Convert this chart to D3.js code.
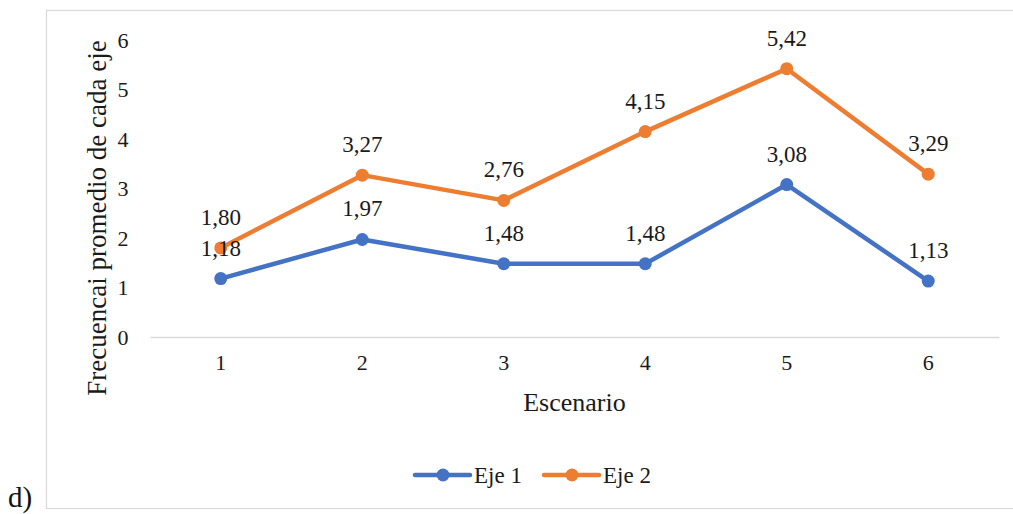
<!DOCTYPE html>
<html>
<head>
<meta charset="utf-8">
<script src="https://cdn.jsdelivr.net/npm/d3@7"></script>
<style>
  html, body { margin: 0; padding: 0; background: #fff; }
  svg { display: block; }
</style>
</head>
<body>
<svg id="chart" width="1013" height="514"></svg>
<script>
// Scenario categories and mean frequency per axis
const escenarios = ["1", "2", "3", "4", "5", "6"];
const eje1 = [1.18, 1.97, 1.48, 1.48, 3.08, 1.13];
const eje2 = [1.80, 3.27, 2.76, 4.15, 5.42, 3.29];
const yTicks = [0, 1, 2, 3, 4, 5, 6];
const seriesNames = ["Eje 1", "Eje 2"];
const seriesColors = ["#4472C4", "#ED7D31"];

const svg = d3.select("#chart");
const fmt = v => d3.format(".2f")(v).replace(".", ",");
const FONT = "'Liberation Serif', 'Times New Roman', serif";
const serif = sel => sel.style("font-family", FONT);

// Chart frame
svg.append("rect")
  .attr("x", 46.5).attr("y", 10.5)
  .attr("width", 975).attr("height", 498)
  .attr("fill", "#fff").attr("stroke", "#d9d9d9").attr("stroke-width", 1.2);

const plot = { left: 150, right: 999, top: 40, bottom: 337 };

const x = d3.scaleBand().domain(escenarios).range([plot.left, plot.right]);
const y = d3.scaleLinear().domain([0, 6]).range([plot.bottom, plot.top]);
const cx = d => x(d) + x.bandwidth() / 2;

// Baseline and category labels
const xAxis = svg.append("g").attr("transform", `translate(0,${plot.bottom})`)
  .call(d3.axisBottom(x).tickSize(0).tickPadding(17));
xAxis.select(".domain").attr("stroke", "#d9d9d9").attr("stroke-width", 1.5);
xAxis.selectAll("text").attr("fill", "#1a1a1a").style("font-size", "22px").call(serif);

// Value axis labels
const yAxis = svg.append("g").attr("transform", `translate(${plot.left - 27},0)`)
  .call(d3.axisLeft(y).tickValues(yTicks).tickFormat(d3.format("d")).tickSize(0).tickPadding(0));
yAxis.select(".domain").remove();
yAxis.selectAll("text").attr("fill", "#1a1a1a").attr("text-anchor", "middle").attr("x", 0)
  .style("font-size", "22px").call(serif);

// Axis titles
svg.append("text")
  .attr("transform", `translate(106,218) rotate(-90)`)
  .attr("text-anchor", "middle").attr("fill", "#1a1a1a")
  .style("font-size", "27px").call(serif)
  .text("Frecuencai promedio de cada eje");

svg.append("text")
  .attr("x", (plot.left + plot.right) / 2).attr("y", 411)
  .attr("text-anchor", "middle").attr("fill", "#1a1a1a")
  .style("font-size", "26px").call(serif)
  .text("Escenario");

// Series
const series = [eje1, eje2];
const line = d3.line().x((d, i) => cx(escenarios[i])).y(d => y(d));

series.forEach((vals, s) => {
  const g = svg.append("g");
  g.append("path").datum(vals)
    .attr("d", line).attr("fill", "none")
    .attr("stroke", seriesColors[s]).attr("stroke-width", 4.5)
    .attr("stroke-linejoin", "round");
  g.selectAll("circle").data(vals).join("circle")
    .attr("cx", (d, i) => cx(escenarios[i])).attr("cy", d => y(d))
    .attr("r", 6.5).attr("fill", seriesColors[s]);
});

// Data labels (orange first, blue on top where they overlap)
[eje2, eje1].forEach(vals => {
  svg.append("g").selectAll("text").data(vals).join("text")
    .attr("x", (d, i) => cx(escenarios[i])).attr("y", d => y(d) - 23)
    .attr("text-anchor", "middle").attr("fill", "#1a1a1a")
    .style("font-size", "23px").call(serif)
    .text(d => fmt(d));
});

// Legend
const legend = svg.append("g").attr("transform", "translate(0,475)");
const legendX = [415, 544];
seriesNames.forEach((name, s) => {
  const lx = legendX[s];
  legend.append("line").attr("x1", lx).attr("x2", lx + 55).attr("y1", 0).attr("y2", 0)
    .attr("stroke", seriesColors[s]).attr("stroke-width", 4.5).attr("stroke-linecap", "round");
  legend.append("circle").attr("cx", lx + 28).attr("cy", 0).attr("r", 6.5).attr("fill", seriesColors[s]);
  legend.append("text").attr("x", lx + 59).attr("y", 8).attr("fill", "#1a1a1a")
    .style("font-size", "23px").call(serif)
    .text(name);
});

// Panel letter
svg.append("text").attr("x", 8).attr("y", 507).attr("fill", "#111")
  .style("font-size", "29px").call(serif).text("d)");
</script>
</body>
</html>
